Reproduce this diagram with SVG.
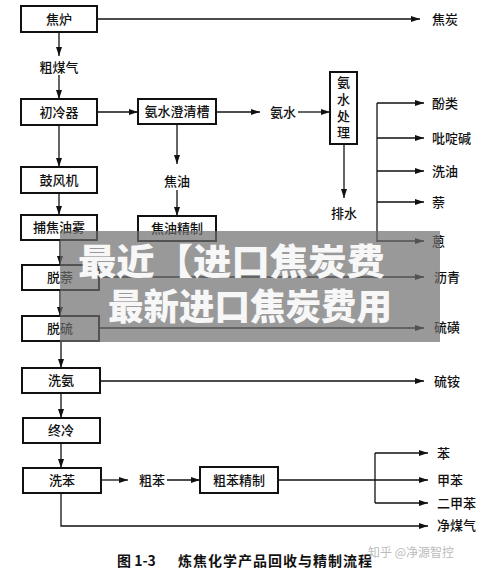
<svg xmlns="http://www.w3.org/2000/svg" width="500" height="574" viewBox="0 0 500 574">
<style>
.box rect{fill:#fff;stroke:#111;stroke-width:2}
.t{font-family:"Noto Sans CJK SC","Noto Sans CJK JP",sans-serif;font-size:13px;font-weight:500;fill:#111;text-anchor:middle}
.l{font-family:"Noto Sans CJK SC","Noto Sans CJK JP",sans-serif;font-size:13px;font-weight:500;fill:#111}
.c line,.c polyline{stroke:#111;stroke-width:1.3;fill:none}
.a{marker-end:url(#ah)}
.ov{font-family:"Noto Sans CJK SC","Noto Sans CJK JP",sans-serif;font-size:36px;font-weight:900;fill:#f7f7f7}
</style>
<defs>
<marker id="ah" markerUnits="userSpaceOnUse" markerWidth="9" markerHeight="6" refX="9" refY="3" orient="auto">
<path d="M0,0 L9,3 L0,6 z" fill="#111"/>
</marker>
</defs>
<rect width="500" height="574" fill="#fff"/>
<g class="c" id="connectors">
<line class="a" x1="97" y1="19" x2="420" y2="19"/>
<line class="a" x1="59" y1="32" x2="59" y2="56"/>
<line class="a" x1="59" y1="75" x2="59" y2="99"/>
<line class="a" x1="97" y1="112" x2="138" y2="112"/>
<line class="a" x1="216" y1="112" x2="260" y2="112"/>
<line class="a" x1="298" y1="112" x2="330" y2="112"/>
<line class="a" x1="177" y1="124" x2="177" y2="164"/>
<line class="a" x1="177" y1="190" x2="177" y2="216"/>
<line class="a" x1="344" y1="144" x2="344" y2="198"/>
<line x1="377" y1="103" x2="377" y2="242"/>
<line class="a" x1="377" y1="103" x2="424" y2="103"/>
<line class="a" x1="377" y1="138" x2="424" y2="138"/>
<line class="a" x1="377" y1="171" x2="424" y2="171"/>
<line class="a" x1="377" y1="202" x2="424" y2="202"/>
<line class="a" x1="377" y1="241" x2="424" y2="241"/>
<line class="a" x1="59" y1="125" x2="59" y2="167"/>
<line class="a" x1="59" y1="193" x2="59" y2="215"/>
<line class="a" x1="60" y1="240" x2="60" y2="265"/>
<line class="a" x1="99" y1="277" x2="424" y2="277"/>
<line class="a" x1="60" y1="290" x2="60" y2="316"/>
<line class="a" x1="99" y1="328" x2="424" y2="328"/>
<line class="a" x1="61" y1="341" x2="61" y2="368"/>
<line class="a" x1="100" y1="381" x2="424" y2="381"/>
<line class="a" x1="61" y1="393" x2="61" y2="418"/>
<line class="a" x1="61" y1="443" x2="61" y2="468"/>
<line class="a" x1="101" y1="480" x2="128" y2="480"/>
<line class="a" x1="167" y1="480" x2="200" y2="480"/>
<line class="a" x1="278" y1="480" x2="428" y2="480"/>
<line x1="375" y1="453" x2="375" y2="503"/>
<line class="a" x1="375" y1="453" x2="428" y2="453"/>
<line class="a" x1="375" y1="503" x2="428" y2="503"/>
<polyline class="a" points="61,493 61,526 428,526"/>
</g>
<g id="n-jiaolu" class="box"><rect x="21" y="6" width="76" height="26"/><text class="t" x="59" y="24">焦炉</text></g>
<g id="n-chulengqi" class="box"><rect x="21" y="99" width="76" height="26"/><text class="t" x="59" y="117">初冷器</text></g>
<g id="n-gufengji" class="box"><rect x="21" y="167" width="76" height="26"/><text class="t" x="59" y="185">鼓风机</text></g>
<g id="n-bujiaoyouwu" class="box"><rect x="21" y="215" width="76" height="25"/><text class="t" x="59" y="232">捕焦油雾</text></g>
<g id="n-tuonai" class="box"><rect x="22" y="265" width="77" height="25"/><text class="t" x="60" y="282">脱萘</text></g>
<g id="n-tuoliu" class="box"><rect x="22" y="316" width="77" height="25"/><text class="t" x="60" y="333">脱硫</text></g>
<g id="n-xian" class="box"><rect x="22" y="368" width="78" height="25"/><text class="t" x="61" y="385">洗氨</text></g>
<g id="n-zhongleng" class="box"><rect x="23" y="418" width="77" height="25"/><text class="t" x="61" y="435">终冷</text></g>
<g id="n-xiben" class="box"><rect x="23" y="468" width="78" height="25"/><text class="t" x="62" y="485">洗苯</text></g>
<g id="n-anshuichengqing" class="box"><rect x="138" y="99" width="78" height="25"/><text class="t" x="177" y="116">氨水澄清槽</text></g>
<g id="n-jiaoyoujingzhi" class="box"><rect x="138" y="216" width="78" height="25"/><text class="t" x="177" y="233">焦油精制</text></g>
<g id="n-cubenjingzhi" class="box"><rect x="200" y="467" width="78" height="26"/><text class="t" x="239" y="485">粗苯精制</text></g>
<g id="n-anshuichuli" class="box"><rect x="330" y="72" width="27" height="72"/>
<text x="343.5" y="76" font-family="Noto Sans CJK SC, sans-serif" font-size="13" font-weight="500" fill="#111" writing-mode="vertical-rl" letter-spacing="3.6">氨水处理</text></g>
<g id="labels">
<text class="t" x="59" y="72">粗煤气</text>
<text class="t" x="283" y="117">氨水</text>
<text class="t" x="177" y="186">焦油</text>
<text class="t" x="344" y="218">排水</text>
<text class="t" x="152" y="485">粗苯</text>
<text class="l" x="432" y="24">焦炭</text>
<text class="l" x="432" y="108">酚类</text>
<text class="l" x="432" y="143">吡啶碱</text>
<text class="l" x="432" y="176">洗油</text>
<text class="l" x="432" y="207">萘</text>
<text class="l" x="432" y="246">蒽</text>
<text class="l" x="434" y="282">沥青</text>
<text class="l" x="434" y="332">硫磺</text>
<text class="l" x="434" y="386">硫铵</text>
<text class="l" x="437" y="458">苯</text>
<text class="l" x="437" y="485">甲苯</text>
<text class="l" x="437" y="508">二甲苯</text>
<text class="l" x="437" y="530">净煤气</text>
</g>
<text x="117" y="566" font-family="Noto Sans CJK SC, sans-serif" font-size="14" font-weight="700" fill="#111" xml:space="preserve">图 1-3</text>
<text x="178" y="566" font-family="Noto Sans CJK SC, sans-serif" font-size="14" font-weight="700" fill="#111" textLength="194">炼焦化学产品回收与精制流程</text>
<text x="368" y="557" font-family="Noto Sans CJK SC, sans-serif" font-size="12" fill="#bbb">知乎 @净源智控</text>
<rect x="60" y="231" width="380" height="111" fill="#6e6e6e" opacity="0.7"/>
<text class="ov" x="78" y="275" textLength="307" lengthAdjust="spacingAndGlyphs">最近【进口焦炭费</text>
<text class="ov" x="108" y="320" textLength="284" lengthAdjust="spacingAndGlyphs">最新进口焦炭费用</text>
</svg>
